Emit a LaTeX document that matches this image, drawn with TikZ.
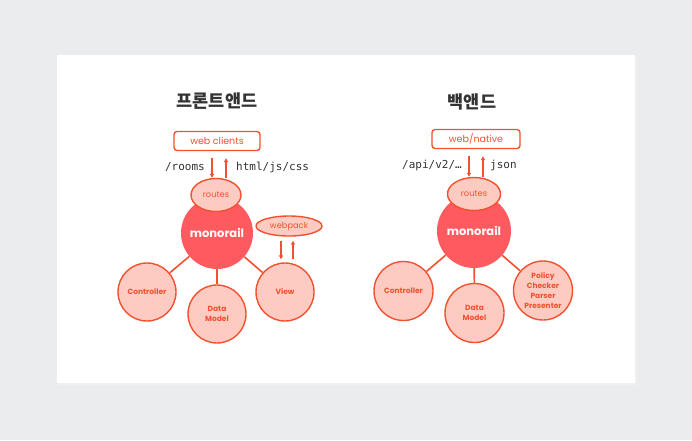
\documentclass[tikz,border=0pt]{standalone}
\usepackage{fontspec}
\setmainfont{Poppins}
\newfontfamily\kofont{Noto Sans CJK KR}
\setmonofont{DejaVu Sans Mono}
\usetikzlibrary{arrows.meta,shapes.geometric}
\definecolor{bg}{HTML}{EBECEE}
\definecolor{accent}{HTML}{F2512F}
\definecolor{pinkfill}{HTML}{FDCBC1}
\definecolor{rail}{HTML}{FF5A5F}
\definecolor{titlegray}{HTML}{333333}
\begin{document}
\begin{tikzpicture}[x=1pt,y=-1pt,
  clientbox/.style={draw=accent, line width=1.4pt, rounded corners=3pt, fill=white,
    minimum height=19pt, inner sep=0pt, text=accent, font=\fontsize{9.5}{11}\selectfont},
  routebox/.style={ellipse, draw=accent, line width=1.4pt, fill=pinkfill, inner sep=0pt,
    text=accent, font=\fontsize{8.3}{9}\selectfont},
  railcircle/.style={circle, fill=rail, inner sep=0pt, text=white,
    font=\fontsize{11.5}{13}\bfseries\selectfont},
  partcircle/.style={circle, draw=accent, line width=1.4pt, fill=pinkfill, inner sep=0pt,
    minimum size=58pt, text=accent, align=center, font=\fontsize{7.5}{10.3}\bfseries\selectfont},
  monotext/.style={inner sep=0pt, text=titlegray, font=\ttfamily\fontsize{11}{12}\selectfont},
  titletext/.style={inner sep=0pt, text=titlegray, font=\kofont\fontsize{17.5}{19}\bfseries\selectfont},
  link/.style={draw=accent, line width=1.6pt},
  flow/.style={draw=accent, line width=1.3pt, -{Triangle[length=4pt,width=4pt]}},
]
% background and card
\fill[bg] (0,0) rectangle (692,440);
\fill[black!6] (58,57) rectangle (637,385);
\fill[white] (57,55) rectangle (635,383);
\useasboundingbox (0,0) rectangle (692,440);

% ---------------- left: frontend ----------------
\node[titletext] (t1) at (217,101) {프론트앤드};
\node[clientbox, minimum width=86pt] (wc) at (217,141) {web clients};
\node[railcircle, minimum size=72pt] (m1) at (217,233) {monorail};
\node[routebox, minimum width=50pt, minimum height=33pt] (r1) at (216,195) {routes};
\node[routebox, minimum width=66pt, minimum height=20pt] (wp) at (289,226) {webpack};
\node[partcircle] (c1) at (147,292) {Controller};
\node[partcircle] (d1) at (217,314) {Data\\Model};
\node[partcircle] (v1) at (285,292) {View};
\draw[link] (m1) -- (c1);
\draw[link] (m1) -- (d1);
\draw[link] (m1) -- (v1);
\draw[flow, shorten <=7pt] ([xshift=-5pt]wc.south) -- ([xshift=-5pt]wc.south |- r1.north);
\draw[flow, shorten >=7pt] ([xshift=9pt]wc.south |- r1.north) -- ([xshift=9pt]wc.south);
\node[monotext, anchor=east] (rooms) at (205,167) {/rooms};
\node[monotext, anchor=west] (html) at (236,167) {html/js/css};
\draw[flow, shorten <=4pt, shorten >=3pt] ([xshift=-8pt]wp.south) -- ([xshift=-8pt]wp.south |- v1.north);
\draw[flow, shorten <=3pt, shorten >=4pt] ([xshift=4pt]wp.south |- v1.north) -- ([xshift=4pt]wp.south);

% ---------------- right: backend ----------------
\node[titletext] (t2) at (472,102) {백앤드};
\node[clientbox, minimum width=88pt] (wn) at (476,139) {web/native};
\node[railcircle, minimum size=74pt] (m2) at (474,231) {monorail};
\node[routebox, minimum width=53pt, minimum height=33pt] (r2) at (474,194) {routes};
\node[partcircle, minimum size=59pt] (c2) at (403.5,291) {Controller};
\node[partcircle, minimum size=59pt] (d2) at (474.5,313) {Data\\Model};
\node[partcircle, minimum size=59pt] (p2) at (543,290.5) {Policy\\Checker\\Parser\\Presenter};
\draw[link] (m2) -- (c2);
\draw[link] (m2) -- (d2);
\draw[link] (m2) -- (p2);
\draw[flow, shorten <=7pt] ([xshift=-7pt]wn.south) -- ([xshift=-7pt]wn.south |- r2.north);
\draw[flow, shorten >=7pt] ([xshift=7pt]wn.south |- r2.north) -- ([xshift=7pt]wn.south);
\node[monotext, anchor=east] (api) at (462,165) {/api/v2/…};
\node[monotext, anchor=west] (json) at (490,165) {json};
\end{tikzpicture}
\end{document}
